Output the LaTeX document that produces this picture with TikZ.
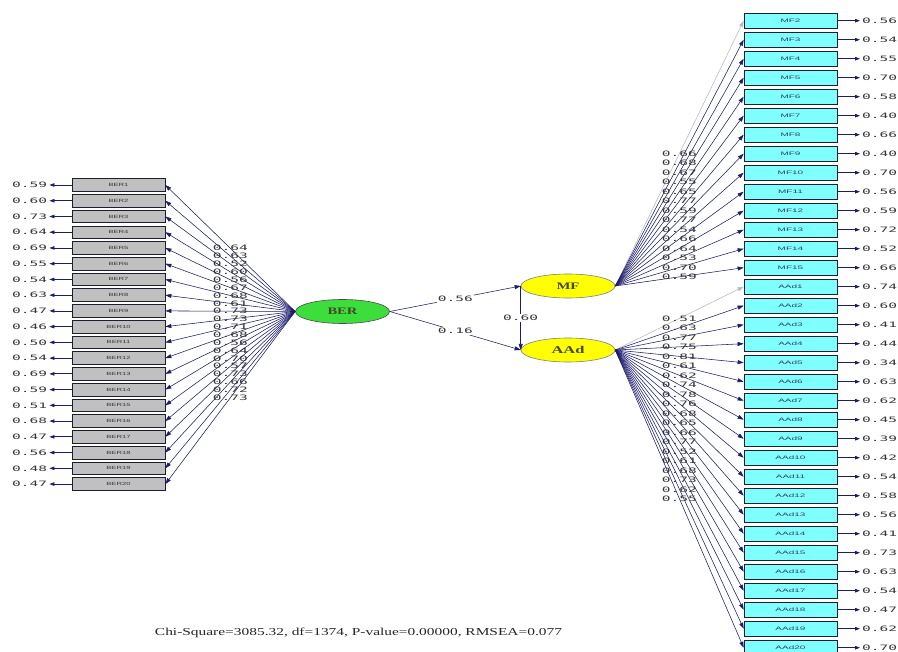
\documentclass[tikz,border=0pt]{standalone}
\usepackage{fontspec}
\setmainfont{Liberation Serif}
\newfontfamily\monof{DejaVu Sans Mono}
\newfontfamily\sansf{Liberation Sans}
\usetikzlibrary{arrows.meta,calc,shapes.geometric}
\definecolor{pathblue}{RGB}{28,28,110}
\definecolor{pathgray}{RGB}{185,185,185}
\definecolor{numgray}{RGB}{55,55,55}
\definecolor{lboxfill}{RGB}{192,192,192}
\definecolor{rboxfill}{RGB}{128,255,255}
\definecolor{boxline}{RGB}{30,30,50}
\definecolor{boxtext}{RGB}{50,60,110}
\definecolor{bergreen}{RGB}{60,222,60}
\definecolor{lvyellow}{RGB}{255,255,0}
\definecolor{lvtext}{RGB}{70,70,40}
\newcommand\nv[1]{\resizebox{35pt}{5.5pt}{\monof #1}}
\newcommand\leftlab[1]{\scalebox{1.7}[1]{\sansf\fontsize{4.5}{5}\selectfont #1}}
\newcommand\rightlab[1]{\scalebox{2}[1]{\sansf\fontsize{5}{6}\selectfont #1}}
\tikzset{
  lbox/.style={draw=boxline, fill=lboxfill, line width=0.7pt, minimum width=93pt, minimum height=12.7pt, inner sep=0pt, text=numgray},
  rbox/.style={draw=boxline, fill=rboxfill, line width=0.7pt, minimum width=93pt, minimum height=15pt, inner sep=0pt, text=boxtext},
  lv/.style={ellipse, draw=gray, line width=0.6pt, minimum width=94pt, minimum height=24pt, inner sep=0pt, text=lvtext},
  num/.style={inner sep=0pt, text=numgray},
  ln/.style={draw=pathblue, line width=0.55pt},
  ar/.style={ln, -{Triangle[length=6pt,width=4pt]}},
  garr/.style={draw=pathgray, line width=0.55pt, -{Triangle[length=6pt,width=4pt]}},
  ear/.style={ln, line width=0.8pt, -{Triangle[length=5pt,width=3.5pt]}, shorten >=2pt},
}
\begin{document}
\begin{tikzpicture}[x=1pt,y=-1pt]
\useasboundingbox[fill=white] (0,0) rectangle (898,652);

% latent variables
\node[lv, fill=bergreen, draw=black!70] (BER) at (342.5,311.5) {\resizebox{30pt}{6.5pt}{\bfseries BER}};
\node[lv, fill=lvyellow] (MF) at (568,286) {\resizebox{23pt}{6.5pt}{\bfseries MF}};
\node[lv, fill=lvyellow] (AAd) at (568,350) {\resizebox{33pt}{7.2pt}{\bfseries AAd}};

% structural paths
\draw[ar] (BER.east) -- (MF.west) node[num, pos=0.5, fill=white, inner sep=1pt] (p1) {\nv{0.56}};
\draw[ar] (BER.east) -- (AAd.west) node[num, pos=0.5, fill=white, inner sep=1pt] (p2) {\nv{0.16}};
\draw[ar] (MF.west) -- (AAd.west) node[num, pos=0.5, fill=white, inner sep=1pt] (p3) {\nv{0.60}};

% BER indicators
\foreach \e/\l [count=\i] in {0.59/0.64,0.60/0.63,0.73/0.52,0.64/0.60,0.69/0.56,0.55/0.67,0.54/0.68,0.63/0.61,0.47/0.73,0.46/0.73,0.50/0.71,0.54/0.68,0.69/0.56,0.59/0.64,0.51/0.70,0.68/0.57,0.47/0.73,0.56/0.66,0.48/0.72,0.47/0.73}{
  \pgfmathsetmacro\yy{185+15.74*(\i-1)}
  \node[lbox] (b\i) at (118.5,\yy) {\leftlab{BER\i}};
  \node[num, anchor=west] (be\i) at (12,\yy) {\nv{\e}};
  \draw[ear] (b\i.west) -- (be\i.east);
  \draw[ar] (BER.west) -- (b\i.east) node[num, pos=0.5] (bl\i) {\nv{\l}};
}

% MF indicators
\foreach \e/\l [count=\k from 2] in {0.56/0.66,0.54/0.68,0.55/0.67,0.70/0.55,0.58/0.65,0.40/0.77,0.66/0.59,0.40/0.77,0.70/0.54,0.56/0.66,0.59/0.64,0.72/0.53,0.52/0.70,0.66/0.59}{
  \pgfmathsetmacro\yy{20.7+19*(\k-2)}
  \node[rbox] (m\k) at (790.5,\yy) {\rightlab{MF\k}};
  \node[num, anchor=west] (me\k) at (862,\yy) {\nv{\e}};
  \draw[ear] (m\k.east) -- (me\k.west);
  \ifnum\k=2 \def\st{garr}\else\def\st{ar}\fi
  \draw[\st] (MF.east) -- (m\k.west) node[num, pos=0.5] (ml\k) {\nv{\l}};
}

% AAd indicators
\foreach \e/\l [count=\k] in {0.74/0.51,0.60/0.63,0.41/0.77,0.44/0.75,0.34/0.81,0.63/0.61,0.62/0.62,0.45/0.74,0.39/0.78,0.42/0.76,0.54/0.68,0.58/0.65,0.56/0.66,0.41/0.77,0.73/0.52,0.63/0.61,0.54/0.68,0.47/0.73,0.62/0.62,0.70/0.55}{
  \pgfmathsetmacro\yy{20.7+19*(13+\k)}
  \node[rbox] (a\k) at (790.5,\yy) {\rightlab{AAd\k}};
  \node[num, anchor=west] (ae\k) at (862,\yy) {\nv{\e}};
  \draw[ear] (a\k.east) -- (ae\k.west);
  \ifnum\k=1 \def\st{garr}\else\def\st{ar}\fi
  \draw[\st] (AAd.east) -- (a\k.west) node[num, pos=0.5] (al\k) {\nv{\l}};
}

\node[num, text=black!85] (fit) at (358.5,633) {\resizebox{407pt}{7.5pt}{Chi-Square=3085.32, df=1374, P-value=0.00000, RMSEA=0.077}};
\end{tikzpicture}
\end{document}
